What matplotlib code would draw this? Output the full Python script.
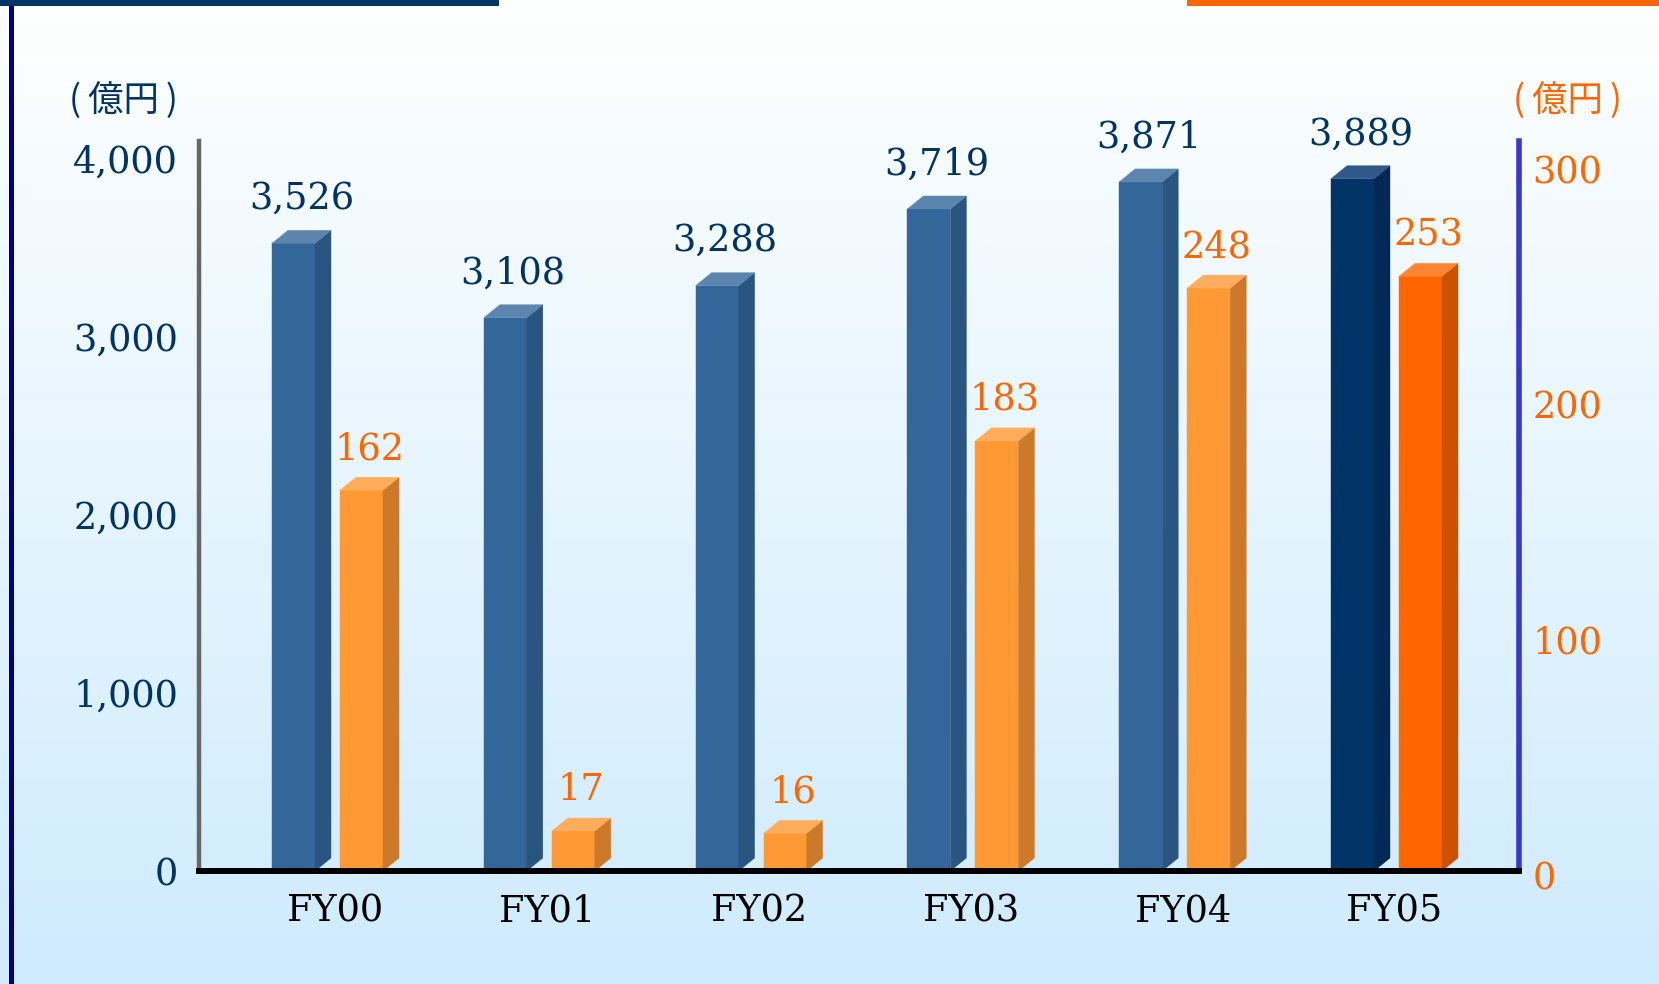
import numpy as np
import matplotlib
matplotlib.use('Agg')
import matplotlib.pyplot as plt
from matplotlib.patches import Polygon, Rectangle
from matplotlib.transforms import ScaledTranslation

# ---------------- data ----------------
categories = ['FY00', 'FY01', 'FY02', 'FY03', 'FY04', 'FY05']
sales = [3526, 3108, 3288, 3719, 3871, 3889]          # left axis (億円)
profit = [162, 17, 16, 183, 248, 253]                 # right axis (億円)
left_ticks = [0, 1000, 2000, 3000, 4000]
left_tick_labels = ['0', '1,000', '2,000', '3,000', '4,000']
right_ticks = [0, 100, 200, 300]
right_tick_labels = ['0', '100', '200', '300']
unit_label = '(\u2009億円\u2009)'

# ---------------- style ----------------
plt.rcParams['font.family'] = ['DejaVu Serif']
W, H, DPI = 1659, 984, 100
NAVY = '#003366'
ORANGE_TXT = '#FF6600'
FS = 26.4

blue_cols = ('#336699', '#2A5580', '#5B85AD')
blue_last = ('#003366', '#002A55', '#30598A')
orng_cols = ('#FF9933', '#CC7A29', '#FFAD5C')
orng_last = ('#FF6600', '#CC5200', '#FF8533')

fig = plt.figure(figsize=(W / DPI, H / DPI), dpi=DPI)

# background gradient
bg = fig.add_axes([0, 0, 1, 1], zorder=-10)
bg.axis('off')
c_top = np.array([254, 255, 255]) / 255
c_bot = np.array([206, 235, 253]) / 255
t = np.linspace(0, 1, 512)[:, None]
grad = c_top * (1 - t) + c_bot * t
bg.imshow(grad[:, None, :], aspect='auto', extent=[0, 1, 0, 1], origin='upper')
bg.set_xlim(0, 1)
bg.set_ylim(0, 1)

# decorative frame lines (figure pixel coords)
def frect(x0, y0, x1, y1, color):
    fig.patches.append(Rectangle((x0 / W, 1 - y1 / H), (x1 - x0) / W, (y1 - y0) / H,
                                 transform=fig.transFigure, facecolor=color,
                                 edgecolor='none', zorder=5))

frect(8.5, 0, 13.5, H, '#000080')
frect(0, 0, 499, 6, NAVY)
frect(1187, 0, W, 5.5, '#FF6600')

# main axes
ax_left, ax_right, ax_bottom, ax_top = 199, 1518.5, 871, 141
ax = fig.add_axes([ax_left / W, 1 - ax_bottom / H, (ax_right - ax_left) / W,
                   (ax_bottom - ax_top) / H])
ax.patch.set_alpha(0)
ax.set_xlim(-0.6445, 5.5855)
ax.set_ylim(0, 4101)
ax2 = ax.twinx()
ax2.set_ylim(0, 310.6)
ax2.patch.set_alpha(0)

# spines
for s in ['top', 'right', 'bottom']:
    ax.spines[s].set_visible(False)
ax.spines['left'].set_color('#666666')
ax.spines['left'].set_linewidth(3.2)
for s in ['top', 'left']:
    ax2.spines[s].set_visible(False)
ax2.spines['bottom'].set_visible(True)
ax2.spines['bottom'].set_color('black')
ax2.spines['bottom'].set_linewidth(4.3)
ax2.spines['right'].set_color('#3838CC')
ax2.spines['right'].set_linewidth(4.0)

# bar geometry (in category units)
px_per_cat = 211.8
w = 43 / px_per_cat
dx = 16 / px_per_cat
blue_off = -63.5 / px_per_cat
orng_off = 4.5 / px_per_cat
dy_px = 13
dy_left = dy_px * 4101 / (ax_bottom - ax_top)
dy_right = dy_px * 310.6 / (ax_bottom - ax_top)


def bar3d(axis, x0, h, dyy, cols):
    cf, cs, ct = cols
    axis.bar(x0, h, width=w, align='edge', color=cf, edgecolor=cf, linewidth=0.3, zorder=1)
    axis.add_patch(Polygon([(x0 + w, 0), (x0 + w + dx, dyy), (x0 + w + dx, h + dyy), (x0 + w, h)],
                           closed=True, facecolor=cs, edgecolor=cs, linewidth=0.3, zorder=1))
    axis.add_patch(Polygon([(x0, h), (x0 + dx, h + dyy), (x0 + w + dx, h + dyy), (x0 + w, h)],
                           closed=True, facecolor=ct, edgecolor=ct, linewidth=0.3, zorder=1))


n = len(categories)
for i in range(n):
    bcols = blue_last if i == n - 1 else blue_cols
    ocols = orng_last if i == n - 1 else orng_cols
    xb = i + blue_off
    xo = i + orng_off
    bar3d(ax, xb, sales[i], dy_left, bcols)
    bar3d(ax2, xo, profit[i], dy_right, ocols)
    ax.annotate(f'{sales[i]:,}', xy=(xb + (w + dx) / 2, sales[i]),
                xytext=(0, (dy_px + 31.5) * 0.72), textcoords='offset points',
                ha='center', va='center', fontsize=FS, color=NAVY)
    ax2.annotate(f'{profit[i]:,}', xy=(xo + (w + dx) / 2, profit[i]),
                 xytext=(0, (dy_px + 28) * 0.72), textcoords='offset points',
                 ha='center', va='center', fontsize=FS, color=ORANGE_TXT)

# ticks
ax.set_xticks(range(n))
ax.set_xticklabels(categories)
ax.set_yticks(left_ticks)
ax.set_yticklabels(left_tick_labels)
ax.tick_params(axis='x', length=0, pad=16, labelsize=FS, labelcolor='black')
ax.tick_params(axis='y', length=0, pad=15, labelsize=FS, labelcolor=NAVY)
ax2.set_yticks(right_ticks)
ax2.set_yticklabels(right_tick_labels)
ax2.tick_params(axis='y', length=0, pad=10, labelsize=FS, labelcolor=ORANGE_TXT)
ax2.tick_params(axis='x', length=0, labelbottom=False)
off = ScaledTranslation(0, -4 / DPI, fig.dpi_scale_trans)
for lab in ax2.get_yticklabels():
    lab.set_transform(lab.get_transform() + off)

# unit labels
cjk = ['Noto Sans CJK JP', 'DejaVu Sans']
fig.text(123.5 / W, 1 - 100.5 / H, unit_label, ha='center', va='center',
         fontsize=25.5, color=NAVY, family=cjk)
fig.text(1567.5 / W, 1 - 100.5 / H, unit_label, ha='center', va='center',
         fontsize=25.5, color='#FF6600', family=cjk)

fig.savefig('out.png', dpi=DPI)
